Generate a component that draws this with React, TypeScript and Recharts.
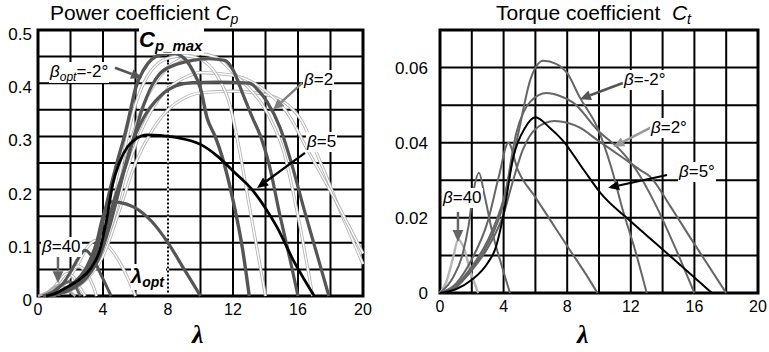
import React from "react";
import {
  LineChart,
  Line,
  XAxis,
  YAxis,
  CartesianGrid,
  ReferenceLine,
  ReferenceArea,
} from "recharts";

type Pt = [number, number];

// axes
const lambdaTicks = [0, 2, 4, 6, 8, 10, 12, 14, 16, 18, 20];
const lambdaLabels = [0, 4, 8, 12, 16, 20];
const cpTicks = [0, 0.05, 0.1, 0.15, 0.2, 0.25, 0.3, 0.35, 0.4, 0.45, 0.5];
const cpLabels = [0, 0.1, 0.2, 0.3, 0.4, 0.5];
const ctTicks = [0, 0.01, 0.02, 0.03, 0.04, 0.05, 0.06, 0.07];
const ctLabels = [0, 0.02, 0.04, 0.06];
const lambdaOpt = 8;

// power coefficient Cp(λ), thick curves
const cpBetaMinus2: Pt[] = [[0.5, 0], [1, 0.003], [2, 0.016], [3, 0.045], [3.6, 0.085], [4.2, 0.17], [4.6, 0.22], [4.9, 0.255], [5.4, 0.31], [5.7, 0.35], [6, 0.39], [6.5, 0.425], [7, 0.445], [7.6, 0.454], [8.3, 0.456], [9, 0.447], [9.5, 0.425], [10, 0.39], [10.4, 0.335], [10.9, 0.3], [11.3, 0.265], [12, 0.18], [12.6, 0.086], [13, 0]];
const cpBeta0: Pt[] = [[0.5, 0], [1, 0.003], [2, 0.014], [3, 0.04], [3.8, 0.08], [4.4, 0.15], [5, 0.21], [5.5, 0.255], [6, 0.31], [6.4, 0.35], [7, 0.395], [7.5, 0.418], [8.5, 0.435], [9.5, 0.443], [10.5, 0.446], [11.5, 0.443], [12, 0.425], [12.6, 0.38], [13.2, 0.335], [13.7, 0.3], [14.2, 0.25], [14.9, 0.15], [15.5, 0.07], [16, 0]];
const cpBeta2: Pt[] = [[0.5, 0], [1, 0.002], [2, 0.012], [3, 0.035], [3.8, 0.075], [4.4, 0.13], [5, 0.2], [5.7, 0.28], [6.5, 0.335], [7.5, 0.375], [8.5, 0.395], [9.5, 0.401], [11, 0.402], [13, 0.4], [13.6, 0.385], [14.1, 0.365], [14.9, 0.316], [15.5, 0.26], [16.4, 0.16], [17.2, 0.075], [17.9, 0]];
const cpBeta5: Pt[] = [[0.5, 0], [1, 0.004], [1.8, 0.017], [2.5, 0.03], [3.2, 0.05], [3.8, 0.086], [4.2, 0.14], [4.6, 0.21], [5, 0.25], [5.5, 0.28], [6, 0.295], [6.7, 0.303], [7.5, 0.302], [8.5, 0.298], [10, 0.285], [11, 0.264], [12, 0.235], [13.2, 0.199], [14, 0.165], [14.7, 0.13], [15.7, 0.068], [17, 0]];
const cpBeta10: Pt[] = [[0.5, 0], [1, 0.004], [2, 0.02], [3, 0.055], [3.6, 0.1], [4, 0.15], [4.5, 0.177], [5, 0.176], [5.9, 0.167], [7, 0.14], [8, 0.1], [9, 0.05], [10, 0]];
const cpBeta20: Pt[] = [[0.3, 0], [1, 0.008], [1.5, 0.022], [2, 0.045], [2.5, 0.072], [2.9, 0.086], [3.3, 0.075], [3.8, 0.045], [4.5, 0]];
const cpBeta30: Pt[] = [[0.3, 0], [1, 0.01], [1.5, 0.022], [1.9, 0.027], [2.3, 0.018], [2.6, 0]];
const cpBeta40: Pt[] = [[0, 0], [0.6, 0.008], [1, 0.017], [1.3, 0.021], [1.7, 0.015], [2.1, 0.005], [2.3, 0]];

// power coefficient, thin (hollow) curves
const cpThinA: Pt[] = [[0.5, 0], [1, 0.003], [2, 0.015], [3, 0.043], [4, 0.1], [4.5, 0.155], [5, 0.225], [5.5, 0.3], [6, 0.36], [6.5, 0.4], [7, 0.425], [8, 0.447], [9, 0.452], [10, 0.445], [11, 0.415], [11.8, 0.36], [12.4, 0.274], [13, 0.17], [13.5, 0.085], [14, 0]];
const cpThinB: Pt[] = [[0.5, 0], [1, 0.003], [2, 0.014], [3, 0.04], [4, 0.095], [4.6, 0.16], [5.2, 0.23], [5.8, 0.3], [6.5, 0.36], [7.2, 0.4], [8, 0.43], [9, 0.448], [10, 0.455], [11, 0.448], [12, 0.42], [13, 0.39], [13.8, 0.36], [14.5, 0.32], [15.1, 0.274], [16, 0.15], [16.9, 0]];
const cpThinC: Pt[] = [[0.5, 0], [1, 0.002], [2, 0.012], [3, 0.036], [4, 0.085], [4.7, 0.15], [5.4, 0.23], [6.2, 0.3], [7, 0.35], [8, 0.39], [9, 0.41], [10, 0.42], [12, 0.415], [14.1, 0.383], [15.3, 0.346], [16.6, 0.274], [18.3, 0.18], [20, 0.08]];
const cpThinD: Pt[] = [[0.5, 0], [1, 0.002], [2, 0.011], [3, 0.032], [4, 0.075], [5, 0.16], [6, 0.25], [7, 0.31], [8, 0.35], [9, 0.372], [10, 0.382], [12, 0.385], [14.1, 0.378], [16.1, 0.335], [17.4, 0.25], [18.6, 0.16], [20, 0.06]];
const cpThinS1: Pt[] = [[0.5, 0], [1, 0.006], [1.5, 0.018], [2, 0.038], [2.5, 0.062], [3, 0.09], [3.6, 0.105], [4.2, 0.097], [5, 0.065], [5.5, 0.035], [6, 0]];
const cpThinS2: Pt[] = [[0.5, 0], [1, 0.01], [1.5, 0.028], [2, 0.047], [2.5, 0.056], [3, 0.042], [3.4, 0.018], [3.6, 0]];
const cpThinS3: Pt[] = [[0.3, 0], [0.8, 0.01], [1.3, 0.028], [1.8, 0.042], [2.2, 0.035], [2.6, 0.015], [2.9, 0]];

// torque coefficient Ct(λ)
const ctBetaMinus2: Pt[] = [[0, 0], [1, 0.002], [2, 0.007], [3, 0.014], [4, 0.025], [4.5, 0.034], [5, 0.044], [5.7, 0.057], [6.5, 0.0618], [7.3, 0.061], [8, 0.0585], [8.8, 0.052], [9.9, 0.044], [10.8, 0.033], [11.5, 0.022], [12.3, 0.011], [13, 0]];
const ctBeta0: Pt[] = [[0, 0], [1, 0.002], [2, 0.0065], [3, 0.013], [4, 0.024], [4.8, 0.0426], [5.7, 0.051], [6.7, 0.0532], [7.5, 0.0525], [8.4, 0.0506], [9.9, 0.0434], [11.5, 0.0373], [12.3, 0.033], [13.5, 0.024], [14.8, 0.012], [16, 0]];
const ctBeta2: Pt[] = [[0, 0], [1, 0.0015], [2, 0.006], [3, 0.012], [4, 0.021], [4.6, 0.03], [5.2, 0.038], [6.1, 0.044], [7.2, 0.0458], [8.8, 0.044], [9.9, 0.0407], [11.5, 0.036], [12.6, 0.0327], [13.2, 0.031], [14.5, 0.023], [15.7, 0.015], [18, 0]];
const ctBeta5: Pt[] = [[0, 0], [1, 0.001], [2, 0.0035], [3, 0.008], [3.5, 0.012], [4, 0.021], [4.6, 0.036], [5.35, 0.044], [6, 0.0468], [6.9, 0.044], [7.7, 0.0407], [9, 0.033], [10.1, 0.0266], [11.9, 0.0194], [13.9, 0.012], [17.1, 0]];
const ctBeta10: Pt[] = [[0, 0], [1, 0.0025], [2, 0.009], [3, 0.019], [3.7, 0.031], [4.3, 0.04], [4.9, 0.0327], [6, 0.0255], [7, 0.019], [8, 0.0125], [9.4, 0.0035], [9.9, 0]];
const ctBeta20: Pt[] = [[0, 0], [0.8, 0.004], [1.4, 0.01], [1.8, 0.018], [2.1, 0.027], [2.45, 0.032], [2.8, 0.026], [3.3, 0.016], [3.9, 0.007], [4.4, 0]];
const ctBeta40: Pt[] = [[0, 0], [0.4, 0.003], [0.8, 0.009], [1.15, 0.0142], [1.5, 0.012], [1.9, 0.006], [2.4, 0]];

const FONT = "'Liberation Sans', Arial, sans-serif";

const rows = (pts: Pt[]) => pts.map(([x, y]) => ({ x, y }));
const near = (list: number[], v: number) => list.some((l) => Math.abs(l - v) < 1e-9);

// eslint-disable-next-line @typescript-eslint/no-explicit-any
const arrow = (color: string, width: number, head = 11) => (p: any) => {
  const { x1, y1, x2, y2 } = p;
  const a = Math.atan2(y2 - y1, x2 - x1);
  const bx = x2 - head * Math.cos(a);
  const by = y2 - head * Math.sin(a);
  const w = head * 0.45;
  const px = -Math.sin(a) * w;
  const py = Math.cos(a) * w;
  return (
    <g>
      <line x1={x1} y1={y1} x2={bx} y2={by} stroke={color} strokeWidth={width} />
      <polygon points={`${x2},${y2} ${bx + px},${by + py} ${bx - px},${by - py}`} fill={color} />
    </g>
  );
};

const tickStyle = { fontSize: 17, fill: "#000", fontFamily: FONT };

function thick(key: string, pts: Pt[], color: string, w: number) {
  return (
    <Line key={key} data={rows(pts)} dataKey="y" type="monotone" stroke={color} strokeWidth={w}
      dot={false} activeDot={false} isAnimationActive={false} />
  );
}

function hollow(key: string, pts: Pt[]) {
  return [
    <Line key={key + "o"} data={rows(pts)} dataKey="y" type="monotone" stroke="#b4b4b4" strokeWidth={3.2}
      dot={false} activeDot={false} isAnimationActive={false} />,
    <Line key={key + "i"} data={rows(pts)} dataKey="y" type="monotone" stroke="#fff" strokeWidth={1.4}
      dot={false} activeDot={false} isAnimationActive={false} />,
  ];
}

const Lbl = ({ left, top, size = 17, children, bold = false }: { left: number; top: number; size?: number; children: React.ReactNode; bold?: boolean }) => (
  <div style={{ position: "absolute", left, top, fontSize: size, lineHeight: `${size + 3}px`, fontFamily: FONT,
    background: "#fff", padding: "0 1px", whiteSpace: "nowrap", fontWeight: bold ? 700 : 400 }}>
    {children}
  </div>
);

const Sub = ({ children, size = 12 }: { children: React.ReactNode; size?: number }) => (
  <span style={{ fontSize: size, position: "relative", top: 4, fontStyle: "italic" }}>{children}</span>
);

const B = () => <i>β</i>;

export default function App() {
  return (
    <div style={{ position: "absolute", left: 0, top: 0, width: 769, height: 352, background: "#fff", fontFamily: FONT }}>
      {/* left: power coefficient */}
      <div style={{ position: "absolute", left: 0, top: 0 }}>
        <LineChart width={380} height={352} margin={{ top: 30, right: 17, bottom: 26, left: 0 }}>
          <CartesianGrid stroke="#000" strokeWidth={2} />
          <XAxis dataKey="x" type="number" domain={[0, 20]} ticks={lambdaTicks} height={30}
            axisLine={false} tickLine={false} tickSize={6} tick={{ ...tickStyle, fontSize: 16 }}
            tickFormatter={(v: number) => (near(lambdaLabels, v) ? String(v) : "")} />
          <YAxis type="number" domain={[0, 0.5]} ticks={cpTicks} width={38} axisLine={false} tickLine={false}
            tickSize={4} tickMargin={2} tick={{ ...tickStyle, dy: 4 }}
            tickFormatter={(v: number) => (near(cpLabels, v) ? String(v) : "")} />
          <ReferenceLine segment={[{ x: lambdaOpt, y: 0.003 }, { x: lambdaOpt, y: 0.44 }]} stroke="#fff"
            strokeWidth={2.2} strokeDasharray="2 2" />
          {hollow("tS1", cpThinS1)}
          {hollow("tS2", cpThinS2)}
          {hollow("tS3", cpThinS3)}
          {hollow("tD", cpThinD)}
          {hollow("tC", cpThinC)}
          {hollow("tB", cpThinB)}
          {hollow("tA", cpThinA)}
          {thick("b40", cpBeta40, "#b0b0b0", 2.6)}
          {thick("b30", cpBeta30, "#666", 3)}
          {thick("b20", cpBeta20, "#555", 3)}
          {thick("b10", cpBeta10, "#555", 3.2)}
          {thick("b2", cpBeta2, "#555", 3.2)}
          {thick("b0", cpBeta0, "#555", 3.2)}
          {thick("bm2", cpBetaMinus2, "#555", 3.4)}
          {thick("b5", cpBeta5, "#000", 2.8)}
          <ReferenceArea x1={0} x2={20} y1={0} y2={0.5} fill="none" stroke="#000" strokeWidth={3} />
          <ReferenceLine segment={[{ x: 4.74, y: 0.429 }, { x: 6.4, y: 0.41 }]} shape={arrow("#555", 2.5)} />
          <ReferenceLine segment={[{ x: 16.25, y: 0.4 }, { x: 14.46, y: 0.35 }]} shape={arrow("#808080", 2.5)} />
          <ReferenceLine segment={[{ x: 16.43, y: 0.269 }, { x: 13.48, y: 0.203 }]} shape={arrow("#000", 2.2)} />
          <ReferenceLine segment={[{ x: 1.23, y: 0.075 }, { x: 1.23, y: 0.024 }]} shape={arrow("#666", 2.5, 12)} />
        </LineChart>
      </div>

      {/* right: torque coefficient */}
      <div style={{ position: "absolute", left: 390, top: 0 }}>
        <LineChart width={379} height={352} margin={{ top: 30, right: 11, bottom: 29, left: 0 }}>
          <CartesianGrid stroke="#000" strokeWidth={2} />
          <XAxis dataKey="x" type="number" domain={[0, 20]} ticks={lambdaTicks} height={30}
            axisLine={false} tickLine={false} tickSize={6} tick={{ ...tickStyle, fontSize: 16 }}
            tickFormatter={(v: number) => (near(lambdaLabels, v) ? String(v) : "")} />
          <YAxis type="number" domain={[0, 0.07]} ticks={ctTicks} width={50} axisLine={false} tickLine={false}
            tickSize={8} tickMargin={4} tick={tickStyle}
            tickFormatter={(v: number) => (near(ctLabels, v) ? String(v) : "")} />
          {thick("c40", ctBeta40, "#b5b5b5", 2.4)}
          {thick("c20", ctBeta20, "#666", 2)}
          {thick("c10", ctBeta10, "#666", 2)}
          {thick("c2", ctBeta2, "#666", 2)}
          {thick("c0", ctBeta0, "#666", 2)}
          {thick("cm2", ctBetaMinus2, "#666", 2)}
          {thick("c5", ctBeta5, "#000", 2)}
          <ReferenceArea x1={0} x2={20} y1={0} y2={0.07} fill="none" stroke="#000" strokeWidth={3} />
          <ReferenceLine segment={[{ x: 11.5, y: 0.0559 }, { x: 8.8, y: 0.0516 }]} shape={arrow("#555", 2.5)} />
          <ReferenceLine segment={[{ x: 13.33, y: 0.0442 }, { x: 10.9, y: 0.0389 }]} shape={arrow("#999", 2.5)} />
          <ReferenceLine segment={[{ x: 14.28, y: 0.0314 }, { x: 10.57, y: 0.028 }]} shape={arrow("#000", 2.2)} />
          <ReferenceLine segment={[{ x: 1.13, y: 0.0216 }, { x: 1.13, y: 0.0136 }]} shape={arrow("#666", 2.5, 12)} />
        </LineChart>
      </div>

      {/* titles */}
      <div style={{ position: "absolute", left: 50, top: 1, fontSize: 21, lineHeight: "24px", whiteSpace: "nowrap" }}>
        Power coefficient <i>C</i><Sub size={14}>p</Sub>
      </div>
      <div style={{ position: "absolute", left: 496, top: 1, fontSize: 21, lineHeight: "24px", whiteSpace: "nowrap" }}>
        Torque coefficient&nbsp; <i>C</i><Sub size={14}>t</Sub>
      </div>

      {/* axis titles */}
      <div style={{ position: "absolute", left: 192, top: 320, fontSize: 26, lineHeight: "30px",
        fontFamily: "'Liberation Serif', serif", fontWeight: 700, fontStyle: "italic" }}>λ</div>
      <div style={{ position: "absolute", left: 577, top: 320, fontSize: 26, lineHeight: "30px",
        fontFamily: "'Liberation Serif', serif", fontWeight: 700, fontStyle: "italic" }}>λ</div>

      {/* annotations, left */}
      <div style={{ position: "absolute", left: 139, top: 28, fontFamily: FONT, fontWeight: 700, fontStyle: "italic",
        whiteSpace: "nowrap", lineHeight: "24px", background: "#fff", paddingRight: 2 }}>
        <span style={{ fontSize: 22 }}>C</span>
        <span style={{ fontSize: 15, position: "relative", top: 4 }}>p_max</span>
      </div>
      <Lbl left={49} top={62}><B /><Sub>opt</Sub>=-2°</Lbl>
      <Lbl left={303} top={70}><B />=2</Lbl>
      <Lbl left={306} top={132}><B />=5</Lbl>
      <Lbl left={41} top={237}><B />=40</Lbl>
      <div style={{ position: "absolute", left: 131, top: 264, fontFamily: FONT, fontWeight: 700, fontStyle: "italic",
        whiteSpace: "nowrap", lineHeight: "24px", background: "#fff", paddingRight: 2 }}>
        <span style={{ fontSize: 20 }}>λ</span>
        <span style={{ fontSize: 14, position: "relative", top: 4 }}>opt</span>
      </div>

      {/* annotations, right */}
      <Lbl left={623} top={70}><B />=-2°</Lbl>
      <Lbl left={650} top={118}><B />=2°</Lbl>
      <Lbl left={678} top={162}><B />=5°</Lbl>
      <Lbl left={442} top={188}><B />=40</Lbl>
    </div>
  );
}
